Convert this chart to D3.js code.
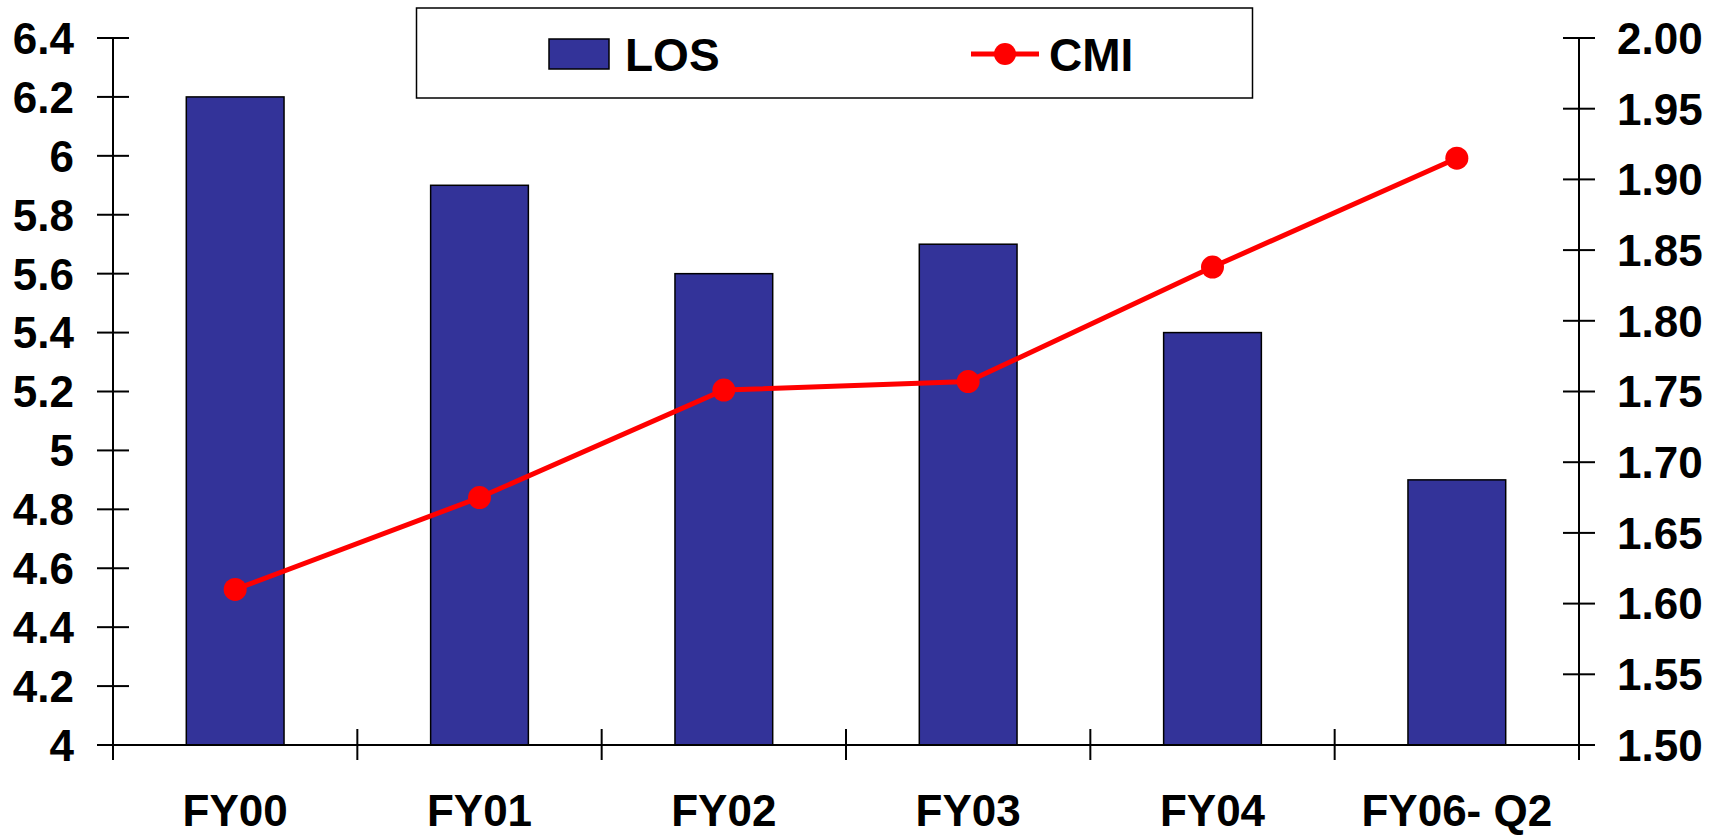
<!DOCTYPE html>
<html>
<head>
<meta charset="utf-8">
<script src="https://cdn.jsdelivr.net/npm/d3@7"></script>
<style>
  html, body { margin: 0; padding: 0; background: #fff; }
  svg { display: block; }
  text { font-family: "Liberation Sans", Arial, sans-serif; font-weight: bold; fill: #000; }
</style>
</head>
<body>
<svg id="chart" width="1723" height="836"></svg>
<script>
// Length of stay (LOS) and case mix index (CMI) by fiscal period
const categories = ["FY00", "FY01", "FY02", "FY03", "FY04", "FY06- Q2"];
const losValues = [6.2, 5.9, 5.6, 5.7, 5.4, 4.9];
const cmiValues = [1.61, 1.675, 1.751, 1.757, 1.838, 1.915];
const leftTicks = [4, 4.2, 4.4, 4.6, 4.8, 5, 5.2, 5.4, 5.6, 5.8, 6, 6.2, 6.4];
const rightTicks = [1.50, 1.55, 1.60, 1.65, 1.70, 1.75, 1.80, 1.85, 1.90, 1.95, 2.00];
const seriesNames = ["LOS", "CMI"];

const svg = d3.select("#chart");
const plot = { left: 113, right: 1579, top: 38, bottom: 745 };

const x = d3.scaleBand().domain(categories).range([plot.left, plot.right]).paddingInner(0).paddingOuter(0);
const yLeft = d3.scaleLinear().domain([4, 6.4]).range([plot.bottom, plot.top]);
const yRight = d3.scaleLinear().domain([1.5, 2.0]).range([plot.bottom, plot.top]);

const barColor = "#333399";
const lineColor = "#ff0000";
const barWidth = x.bandwidth() * 0.4;

// Bars (LOS, left axis)
svg.append("g").selectAll("rect")
  .data(losValues)
  .join("rect")
  .attr("x", (d, i) => x(categories[i]) + x.bandwidth() / 2 - barWidth / 2)
  .attr("y", d => yLeft(d))
  .attr("width", barWidth)
  .attr("height", d => yLeft(4) - yLeft(d))
  .attr("fill", barColor)
  .attr("stroke", "#000")
  .attr("stroke-width", 1.5);

// Axes
const axisG = svg.append("g").attr("stroke", "#000").attr("stroke-width", 2);
const tickOut = 16, tickIn = 16;

// Left axis
axisG.append("line").attr("x1", plot.left).attr("x2", plot.left).attr("y1", plot.top).attr("y2", plot.bottom + 15);
axisG.selectAll("line.lt").data(leftTicks).join("line").attr("class", "lt")
  .attr("x1", plot.left - tickOut).attr("x2", plot.left + tickIn)
  .attr("y1", d => yLeft(d)).attr("y2", d => yLeft(d));
svg.append("g").selectAll("text").data(leftTicks).join("text")
  .attr("x", 74).attr("y", d => yLeft(d)).attr("dy", "0.36em")
  .attr("text-anchor", "end").attr("font-size", 44)
  .text(d => d3.format("")(d));

// Right axis
axisG.append("line").attr("x1", plot.right).attr("x2", plot.right).attr("y1", plot.top).attr("y2", plot.bottom + 15);
axisG.selectAll("line.rt").data(rightTicks).join("line").attr("class", "rt")
  .attr("x1", plot.right - tickIn).attr("x2", plot.right + tickOut)
  .attr("y1", d => yRight(d)).attr("y2", d => yRight(d));
svg.append("g").selectAll("text").data(rightTicks).join("text")
  .attr("x", 1617).attr("y", d => yRight(d)).attr("dy", "0.36em")
  .attr("text-anchor", "start").attr("font-size", 44)
  .text(d => d3.format(".2f")(d));

// Bottom axis with category separators
axisG.append("line").attr("x1", plot.left).attr("x2", plot.right).attr("y1", plot.bottom).attr("y2", plot.bottom);
const bounds = categories.map(c => x(c)).concat([plot.right]);
axisG.selectAll("line.ct").data(bounds).join("line").attr("class", "ct")
  .attr("x1", d => d).attr("x2", d => d)
  .attr("y1", plot.bottom - 16).attr("y2", plot.bottom + 15);
svg.append("g").selectAll("text").data(categories).join("text")
  .attr("x", d => x(d) + x.bandwidth() / 2).attr("y", 826)
  .attr("text-anchor", "middle").attr("font-size", 44)
  .text(d => d);

// CMI line (right axis)
const line = d3.line()
  .x((d, i) => x(categories[i]) + x.bandwidth() / 2)
  .y(d => yRight(d));
svg.append("path").datum(cmiValues)
  .attr("d", line).attr("fill", "none")
  .attr("stroke", lineColor).attr("stroke-width", 5);
svg.append("g").selectAll("circle").data(cmiValues).join("circle")
  .attr("cx", (d, i) => x(categories[i]) + x.bandwidth() / 2)
  .attr("cy", d => yRight(d))
  .attr("r", 11.5)
  .attr("fill", lineColor);

// Legend
const legend = svg.append("g");
legend.append("rect").attr("x", 416.5).attr("y", 8).attr("width", 836).attr("height", 90)
  .attr("fill", "#fff").attr("stroke", "#000").attr("stroke-width", 1.5);
legend.append("rect").attr("x", 549).attr("y", 39).attr("width", 60).attr("height", 30)
  .attr("fill", barColor).attr("stroke", "#000").attr("stroke-width", 1.5);
legend.append("text").attr("x", 625).attr("y", 54).attr("dy", "0.36em")
  .attr("font-size", 46).text(seriesNames[0]);
legend.append("line").attr("x1", 971).attr("x2", 1039).attr("y1", 54).attr("y2", 54)
  .attr("stroke", lineColor).attr("stroke-width", 5);
legend.append("circle").attr("cx", 1005).attr("cy", 54).attr("r", 11).attr("fill", lineColor);
legend.append("text").attr("x", 1049).attr("y", 54).attr("dy", "0.36em")
  .attr("font-size", 46).text(seriesNames[1]);
</script>
</body>
</html>
